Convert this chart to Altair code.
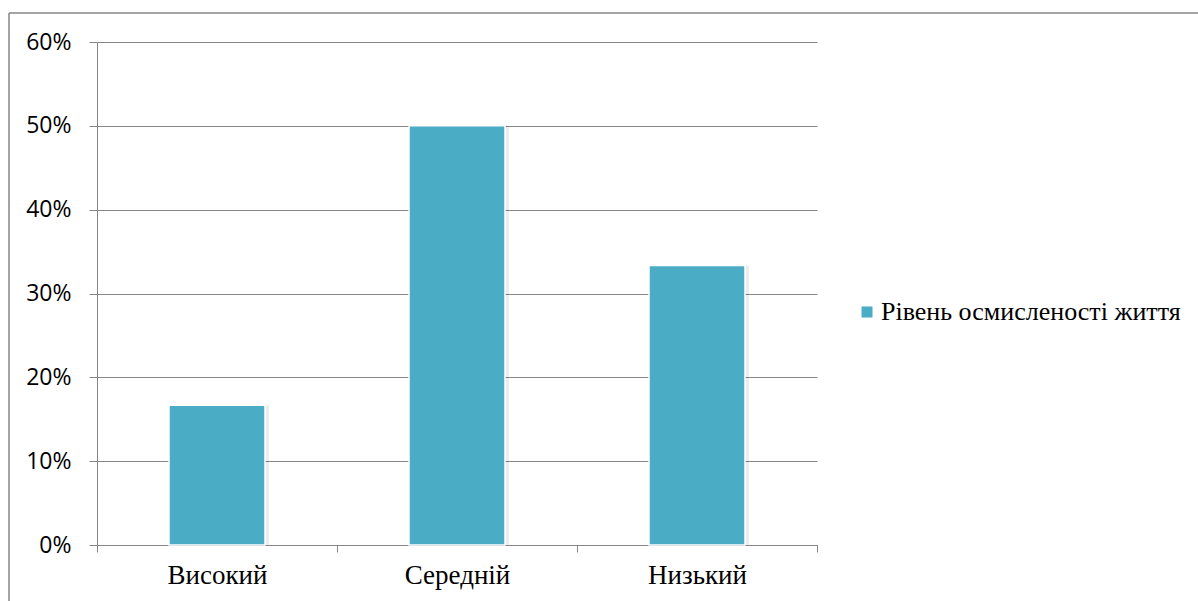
import altair as alt
import pandas as pd

# Data
levels = ["Високий", "Середній", "Низький"]
shares = [0.1667, 0.50, 0.3333]
series_name = "Рівень осмисленості життя"

BAR_COLOR = "#4BACC6"
GRID = "#868686"
SERIF = "Liberation Serif"
PLOT_W, PLOT_H = 720, 503
LEFT, TOP = 97, 42

df = pd.DataFrame({"level": levels, "share": shares, "series": [series_name] * len(levels)})
frame_df = pd.DataFrame({"k": [0]})

x_enc = alt.X(
    "level:N",
    sort=levels,
    scale=alt.Scale(paddingInner=0, paddingOuter=0),
    axis=alt.Axis(
        title=None,
        labelAngle=0,
        labelFont=SERIF,
        labelFontSize=27,
        labelColor="#000000",
        labelPadding=10,
        tickBand="extent",
        tickSize=7,
        tickColor=GRID,
        domainColor=GRID,
        grid=False,
    ),
)
y_enc = alt.Y(
    "share:Q",
    scale=alt.Scale(domain=[0, 0.6], nice=False),
    axis=alt.Axis(
        title=None,
        values=[0, 0.1, 0.2, 0.3, 0.4, 0.5, 0.6],
        format=".0%",
        labelFont="Open Sans",
        labelFontSize=23,
        labelColor="#000000",
        labelPadding=18,
        tickSize=8,
        tickColor=GRID,
        domainColor=GRID,
        gridColor=GRID,
        grid=True,
    ),
)

# soft drop shadow behind each bar
shadow = alt.Chart(df).mark_bar(width=100, color="#000000", opacity=0.07, xOffset=2).encode(
    x=x_enc, y=y_enc
)

bars = alt.Chart(df).mark_bar(width=96, stroke="#ffffff", strokeWidth=1.5).encode(
    x=x_enc,
    y=y_enc,
    color=alt.Color(
        "series:N",
        scale=alt.Scale(range=[BAR_COLOR]),
        legend=alt.Legend(
            title=None,
            orient="none",
            legendX=757,
            legendY=257,
            symbolType="square",
            symbolSize=121,
            symbolStrokeWidth=0,
            labelFont=SERIF,
            labelFontSize=26,
            labelColor="#000000",
            labelOffset=1,
            labelLimit=0,
            padding=0,
        ),
    ),
)

# outer chart frame (left and top edges)
frame_left = alt.Chart(frame_df).mark_rule(color=GRID, strokeWidth=1.5).encode(
    x=alt.value(9 - LEFT), y=alt.value(13 - TOP), y2=alt.value(620 - TOP)
)
frame_top = alt.Chart(frame_df).mark_rule(color=GRID, strokeWidth=1.5).encode(
    x=alt.value(9 - LEFT), x2=alt.value(1210 - LEFT), y=alt.value(13 - TOP)
)

chart = (
    alt.layer(shadow, bars, frame_left, frame_top)
    .properties(
        width=PLOT_W,
        height=PLOT_H,
        view=alt.ViewBackground(stroke="transparent", strokeWidth=0),
        autosize=alt.AutoSizeParams(type="none"),
        padding={"left": LEFT, "top": TOP, "right": 1198 - LEFT - PLOT_W, "bottom": 601 - TOP - PLOT_H},
    )
    .configure_view(strokeWidth=0, stroke="transparent")
    .configure_legend(labelFont=SERIF)
    .configure(background="#ffffff")
)

chart.save("out.html", embed_options={"renderer": "svg", "actions": False})
